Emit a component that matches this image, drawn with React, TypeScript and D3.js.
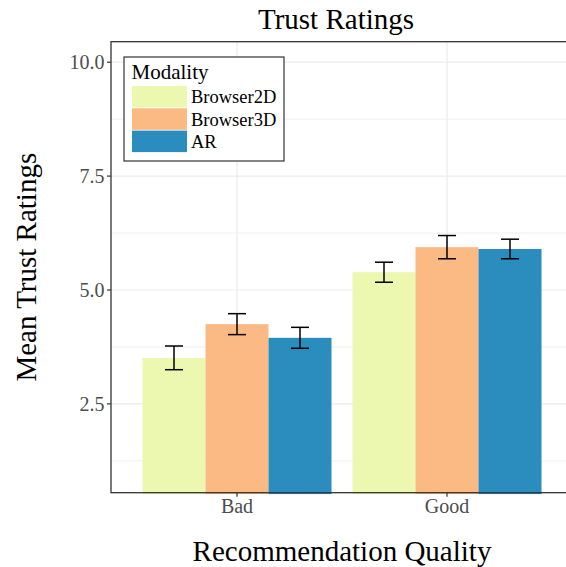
import React, { useEffect, useRef } from "react";
import * as d3 from "d3";

const categories = ["Bad", "Good"];
const modalities = ["Browser2D", "Browser3D", "AR"];
const colors = ["#ecf7af", "#fbba83", "#2b8cbe"];
const meanBad = [3.51, 4.25, 3.95];
const meanGood = [5.39, 5.94, 5.90];
const errBad = [0.26, 0.23, 0.23];
const errGood = [0.22, 0.255, 0.215];
const yTicks = [2.5, 5.0, 7.5, 10.0];
const yMinor = [1.25, 3.75, 6.25, 8.75];

const W = 566, H = 567;
const panel = { left: 111, right: 573, top: 41.7, bottom: 492.7 };
const FONT = "'Liberation Serif', 'Times New Roman', serif";

export default function App() {
  const ref = useRef<SVGSVGElement>(null);
  useEffect(() => {
    const svg = d3.select(ref.current);
    svg.selectAll("*").remove();

    const y = d3.scaleLinear().domain([0.55, 10.45]).range([panel.bottom, panel.top]);
    const x = d3.scaleLinear().domain([0.4, 2.6]).range([panel.left, panel.right]);
    const dodge = 0.9;
    const bw = dodge / modalities.length;

    const rows = categories.flatMap((c, ci) =>
      modalities.map((m, mi) => ({
        cat: c, mod: m, ci, mi,
        mean: (ci === 0 ? meanBad : meanGood)[mi],
        err: (ci === 0 ? errBad : errGood)[mi],
      }))
    );

    svg.append("rect").attr("width", W).attr("height", H).attr("fill", "#fff");

    const defs = svg.append("defs");
    defs.append("clipPath").attr("id", "pclip").append("rect")
      .attr("x", panel.left).attr("y", panel.top)
      .attr("width", panel.right - panel.left).attr("height", panel.bottom - panel.top + 1.6);

    const g = svg.append("g");
    // grid
    g.selectAll(".minor").data(yMinor).enter().append("line")
      .attr("x1", panel.left).attr("x2", panel.right)
      .attr("y1", d => y(d)).attr("y2", d => y(d))
      .attr("stroke", "#ebebeb").attr("stroke-width", 0.8);
    g.selectAll(".major").data(yTicks).enter().append("line")
      .attr("x1", panel.left).attr("x2", panel.right)
      .attr("y1", d => y(d)).attr("y2", d => y(d))
      .attr("stroke", "#ebebeb").attr("stroke-width", 1.2);
    g.selectAll(".vmajor").data(categories).enter().append("line")
      .attr("x1", (d, i) => x(i + 1)).attr("x2", (d, i) => x(i + 1))
      .attr("y1", panel.top).attr("y2", panel.bottom)
      .attr("stroke", "#ebebeb").attr("stroke-width", 1.2);

    // bars
    const bars = svg.append("g").attr("clip-path", "url(#pclip)");
    bars.selectAll("rect").data(rows).enter().append("rect")
      .attr("x", d => x(d.ci + 1 - dodge / 2 + d.mi * bw))
      .attr("width", x(bw) - x(0))
      .attr("y", d => y(d.mean))
      .attr("height", d => panel.bottom + 1.6 - y(d.mean))
      .attr("fill", d => colors[d.mi]);

    // error bars
    const capW = 18;
    const eb = svg.append("g").attr("stroke", "#000").attr("stroke-width", 1.5).attr("fill", "none");
    rows.forEach(d => {
      const cx = x(d.ci + 1 - dodge / 2 + (d.mi + 0.5) * bw);
      const y1 = y(d.mean + d.err), y0 = y(d.mean - d.err);
      eb.append("line").attr("x1", cx).attr("x2", cx).attr("y1", y1).attr("y2", y0);
      eb.append("line").attr("x1", cx - capW / 2).attr("x2", cx + capW / 2).attr("y1", y1).attr("y2", y1);
      eb.append("line").attr("x1", cx - capW / 2).attr("x2", cx + capW / 2).attr("y1", y0).attr("y2", y0);
    });

    // panel border
    svg.append("rect")
      .attr("x", panel.left).attr("y", panel.top)
      .attr("width", panel.right - panel.left).attr("height", panel.bottom - panel.top)
      .attr("fill", "none").attr("stroke", "#333").attr("stroke-width", 1.3);

    // y axis ticks and labels
    const ya = svg.append("g");
    yTicks.forEach(t => {
      ya.append("line").attr("x1", panel.left - 4).attr("x2", panel.left)
        .attr("y1", y(t)).attr("y2", y(t)).attr("stroke", "#333").attr("stroke-width", 1.2);
      ya.append("text").attr("x", panel.left - 6.5).attr("y", y(t))
        .attr("dy", "0.35em").attr("text-anchor", "end")
        .attr("font-family", FONT).attr("font-size", 20).attr("fill", "#4d4d4d")
        .text(d3.format(".1f")(t));
    });
    // x axis ticks and labels
    categories.forEach((c, i) => {
      ya.append("line").attr("x1", x(i + 1)).attr("x2", x(i + 1))
        .attr("y1", panel.bottom).attr("y2", panel.bottom + 4).attr("stroke", "#333").attr("stroke-width", 1.2);
      ya.append("text").attr("x", x(i + 1)).attr("y", panel.bottom + 20.5)
        .attr("text-anchor", "middle")
        .attr("font-family", FONT).attr("font-size", 20).attr("fill", "#4d4d4d")
        .text(c);
    });

    const cx = (panel.left + panel.right) / 2;
    svg.append("text").attr("x", 336).attr("y", 29)
      .attr("text-anchor", "middle").attr("font-family", FONT).attr("font-size", 29)
      .attr("fill", "#000").text("Trust Ratings");
    svg.append("text").attr("x", cx).attr("y", 561)
      .attr("text-anchor", "middle").attr("font-family", FONT).attr("font-size", 29)
      .attr("fill", "#000").text("Recommendation Quality");
    svg.append("text")
      .attr("transform", `translate(36, ${(panel.top + panel.bottom) / 2}) rotate(-90)`)
      .attr("text-anchor", "middle").attr("font-family", FONT).attr("font-size", 29)
      .attr("fill", "#000").text("Mean Trust Ratings");

    // legend
    const lg = svg.append("g");
    lg.append("rect").attr("x", 124).attr("y", 57).attr("width", 160).attr("height", 104)
      .attr("fill", "#fff").attr("stroke", "#333").attr("stroke-width", 1.2);
    lg.append("text").attr("x", 131.5).attr("y", 79).attr("font-family", FONT)
      .attr("font-size", 21).attr("fill", "#000").text("Modality");
    modalities.forEach((m, i) => {
      const ky = 86 + i * 22.3;
      lg.append("rect").attr("x", 132).attr("y", ky).attr("width", 55).attr("height", 21.5)
        .attr("fill", colors[i]);
      lg.append("text").attr("x", 191).attr("y", ky + 11).attr("dy", "0.35em")
        .attr("font-family", FONT).attr("font-size", 18.5).attr("fill", "#000").text(m);
    });
  }, []);

  return (
    <svg ref={ref} width={W} height={H}
      style={{ position: "absolute", left: 0, top: 0, display: "block" }} />
  );
}
